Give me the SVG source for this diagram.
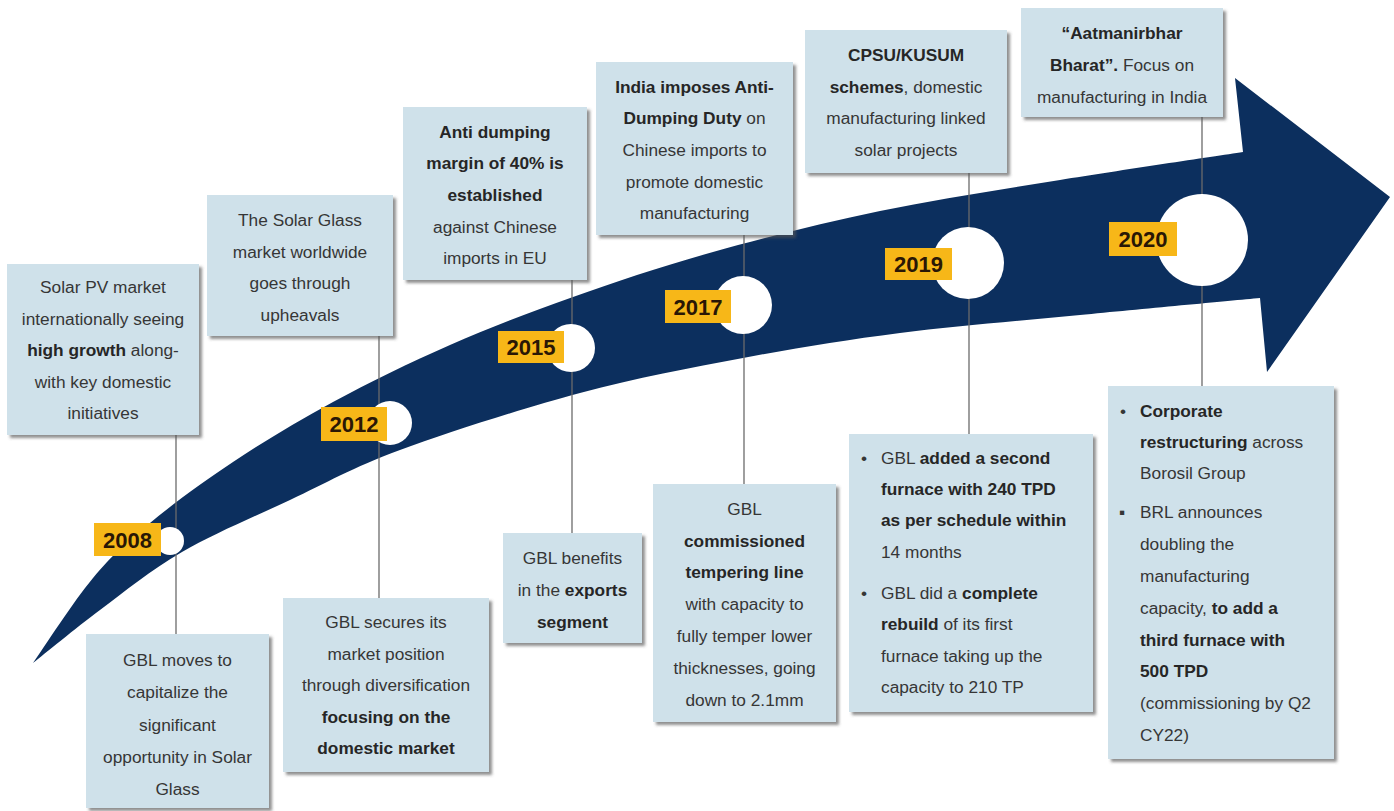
<svg xmlns="http://www.w3.org/2000/svg" width="1394" height="811" viewBox="0 0 1394 811">
<defs>
<filter id="sh" x="-10%" y="-10%" width="130%" height="130%">
<feDropShadow dx="3" dy="3" stdDeviation="1.8" flood-color="#555" flood-opacity="0.65"/>
</filter>
<style>
.box{fill:#cfe1ea;filter:url(#sh);}
.t{font-family:"Liberation Sans",Arial,sans-serif;font-size:17.3px;fill:#363636;}
.c{text-anchor:middle;}
.b{font-weight:bold;fill:#262626;}
.lbl{fill:#f7b718;}
.lt{font-family:"Liberation Sans",Arial,sans-serif;font-weight:bold;font-size:22px;fill:#2a1705;text-anchor:middle;}
.conn{stroke:#6b6b6b;stroke-width:1.3;fill:none;}
.dot{fill:#fff;}
</style>
</defs>
<rect width="1394" height="811" fill="#fff"/>
<g id="arrow">
<path fill="#0c2f5e" d="M33,663 C43,648.8 73.5,601.3 93,578 C112.5,554.7 126.7,542.3 150,523 C173.3,503.7 202.5,482.2 233,462 C263.5,441.8 296.8,421.5 333,402 C369.2,382.5 410,362.5 450,345 C490,327.5 529.2,312.5 573,297 C616.8,281.5 661.8,266.3 713,252 C764.2,237.7 822.2,223 880,211 C937.8,199 999.5,189.8 1060,180 C1120.5,170.2 1212.5,156.7 1243,152 L1235,78 L1390,197 L1267,372 L1260,298 C1230,300.8 1140,309.2 1080,315 C1020,320.8 956.2,325.8 900,333 C843.8,340.2 796.3,348 743,358 C689.7,368 637.2,377.7 580,393 C522.8,408.3 448.3,432.2 400,450 C351.7,467.8 326.3,483 290,500 C253.7,517 213.7,533.7 182,552 C150.3,570.3 124.8,591.5 100,610 C75.2,628.5 44.2,654.2 33,663 Z"/>
</g>
<g id="connectors">
<line class="conn" x1="176" y1="435" x2="176" y2="634"/>
<line class="conn" x1="379" y1="336" x2="379" y2="598"/>
<line class="conn" x1="572" y1="280" x2="572" y2="533"/>
<line class="conn" x1="744" y1="235" x2="744" y2="484"/>
<line class="conn" x1="969" y1="173" x2="969" y2="434"/>
<line class="conn" x1="1202" y1="117" x2="1202" y2="386"/>
</g>
<g id="milestones">
<g id="m2008"><circle class="dot" cx="170" cy="541" r="14"/><rect class="lbl" x="94" y="523" width="67" height="33"/><text class="lt" x="127.5" y="547.5">2008</text></g>
<g id="m2012"><circle class="dot" cx="390" cy="423" r="22"/><rect class="lbl" x="321" y="407" width="66" height="34"/><text class="lt" x="354" y="432">2012</text></g>
<g id="m2015"><circle class="dot" cx="571" cy="348" r="24"/><rect class="lbl" x="498" y="331" width="66" height="32"/><text class="lt" x="531" y="355">2015</text></g>
<g id="m2017"><circle class="dot" cx="743" cy="305" r="29"/><rect class="lbl" x="665" y="290" width="66" height="33"/><text class="lt" x="698" y="314.5">2017</text></g>
<g id="m2019"><circle class="dot" cx="968" cy="263" r="36"/><rect class="lbl" x="885" y="248" width="67" height="32"/><text class="lt" x="918.5" y="272">2019</text></g>
<g id="m2020"><circle class="dot" cx="1202" cy="240" r="46"/><rect class="lbl" x="1109" y="222" width="68" height="34"/><text class="lt" x="1143" y="247">2020</text></g>
</g>
<g id="box2008top"><rect class="box" x="7" y="264" width="192" height="171"/>
<text class="t c" x="103" y="293">Solar PV market</text>
<text class="t c" x="103" y="324.5">internationally seeing</text>
<text class="t c" x="103" y="356"><tspan class="b">high growth</tspan> along-</text>
<text class="t c" x="103" y="387.5">with key domestic</text>
<text class="t c" x="103" y="419">initiatives</text></g>
<g id="box2012top"><rect class="box" x="207" y="195" width="186" height="141"/>
<text class="t c" x="300" y="226">The Solar Glass</text>
<text class="t c" x="300" y="258">market worldwide</text>
<text class="t c" x="300" y="289">goes through</text>
<text class="t c" x="300" y="321">upheavals</text></g>
<g id="box2015top"><rect class="box" x="403" y="107" width="184" height="173"/>
<text class="t c b" x="495" y="138">Anti dumping</text>
<text class="t c b" x="495" y="169">margin of 40% is</text>
<text class="t c b" x="495" y="200.5">established</text>
<text class="t c" x="495" y="232.5">against Chinese</text>
<text class="t c" x="495" y="264">imports in EU</text></g>
<g id="box2017top"><rect class="box" x="596" y="62" width="197" height="173"/>
<text class="t c b" x="694.5" y="93">India imposes Anti-</text>
<text class="t c" x="694.5" y="124"><tspan class="b">Dumping Duty</tspan> on</text>
<text class="t c" x="694.5" y="156">Chinese imports to</text>
<text class="t c" x="694.5" y="188">promote domestic</text>
<text class="t c" x="694.5" y="219">manufacturing</text></g>
<g id="box2019top"><rect class="box" x="805" y="30" width="202" height="143"/>
<text class="t c b" x="906" y="61">CPSU/KUSUM</text>
<text class="t c" x="906" y="93"><tspan class="b">schemes</tspan>, domestic</text>
<text class="t c" x="906" y="124">manufacturing linked</text>
<text class="t c" x="906" y="156">solar projects</text></g>
<g id="box2020top"><rect class="box" x="1021" y="8" width="202" height="109"/>
<text class="t c b" x="1122" y="39">“Aatmanirbhar</text>
<text class="t c" x="1122" y="71"><tspan class="b">Bharat”.</tspan> Focus on</text>
<text class="t c" x="1122" y="103">manufacturing in India</text></g>
<g id="box2008bottom"><rect class="box" x="86" y="634" width="183" height="174"/>
<text class="t c" x="177.5" y="666">GBL moves to</text>
<text class="t c" x="177.5" y="698">capitalize the</text>
<text class="t c" x="177.5" y="730.5">significant</text>
<text class="t c" x="177.5" y="763">opportunity in Solar</text>
<text class="t c" x="177.5" y="795">Glass</text></g>
<g id="box2012bottom"><rect class="box" x="283" y="598" width="206" height="174"/>
<text class="t c" x="386" y="628">GBL secures its</text>
<text class="t c" x="386" y="660">market position</text>
<text class="t c" x="386" y="691">through diversification</text>
<text class="t c b" x="386" y="723">focusing on the</text>
<text class="t c b" x="386" y="754">domestic market</text></g>
<g id="box2015bottom"><rect class="box" x="503" y="533" width="139" height="110"/>
<text class="t c" x="572.5" y="564">GBL benefits</text>
<text class="t c" x="572.5" y="596">in the <tspan class="b">exports</tspan></text>
<text class="t c b" x="572.5" y="628">segment</text></g>
<g id="box2017bottom"><rect class="box" x="653" y="484" width="183" height="238"/>
<text class="t c" x="744.5" y="515">GBL</text>
<text class="t c b" x="744.5" y="547">commissioned</text>
<text class="t c b" x="744.5" y="578">tempering line</text>
<text class="t c" x="744.5" y="610">with capacity to</text>
<text class="t c" x="744.5" y="642">fully temper lower</text>
<text class="t c" x="744.5" y="674">thicknesses, going</text>
<text class="t c" x="744.5" y="706">down to 2.1mm</text></g>
<g id="box2019bottom"><rect class="box" x="849" y="434" width="244" height="278"/>
<text class="t" x="861" y="464">•</text>
<text class="t" x="881" y="464">GBL <tspan class="b">added a second</tspan></text>
<text class="t b" x="881" y="495">furnace with 240 TPD</text>
<text class="t b" x="881" y="526">as per schedule within</text>
<text class="t" x="881" y="558">14 months</text>
<text class="t" x="861" y="599">•</text>
<text class="t" x="881" y="599">GBL did a <tspan class="b">complete</tspan></text>
<text class="t" x="881" y="630"><tspan class="b">rebuild</tspan> of its first</text>
<text class="t" x="881" y="662">furnace taking up the</text>
<text class="t" x="881" y="693">capacity to 210 TP</text></g>
<g id="box2020bottom"><rect class="box" x="1108" y="386" width="226" height="373"/>
<text class="t" x="1120" y="417">•</text>
<text class="t b" x="1140" y="417">Corporate</text>
<text class="t" x="1140" y="448"><tspan class="b">restructuring</tspan> across</text>
<text class="t" x="1140" y="479">Borosil Group</text>
<text class="t" x="1119" y="518">▪</text>
<text class="t" x="1140" y="518">BRL announces</text>
<text class="t" x="1140" y="549.5">doubling the</text>
<text class="t" x="1140" y="582">manufacturing</text>
<text class="t" x="1140" y="614">capacity, <tspan class="b">to add a</tspan></text>
<text class="t b" x="1140" y="645.5">third furnace with</text>
<text class="t b" x="1140" y="677">500 TPD</text>
<text class="t" x="1140" y="709">(commissioning by Q2</text>
<text class="t" x="1140" y="741">CY22)</text></g>
</svg>
